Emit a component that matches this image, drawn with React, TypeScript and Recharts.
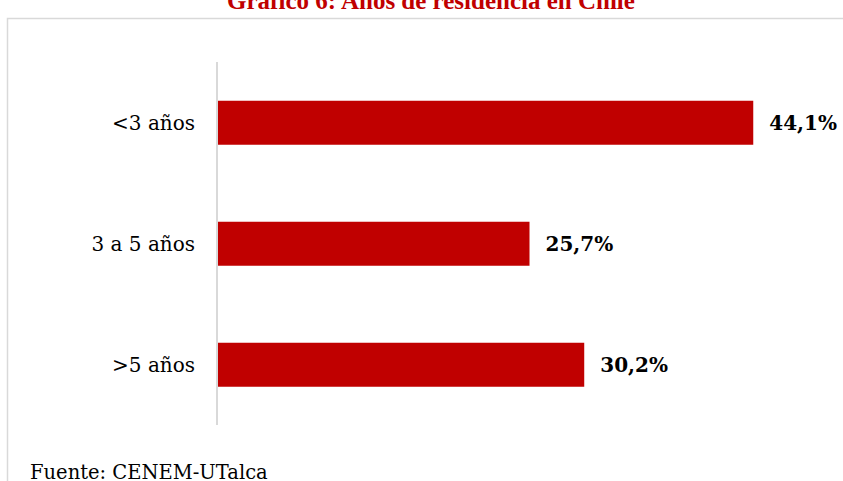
import React from "react";
import { BarChart, Bar, XAxis, YAxis, LabelList } from "recharts";

const categories = ["<3 años", "3 a 5 años", ">5 años"];
const values = [44.1, 25.7, 30.2];
const title = "Gráfico 6: Años de residencia en Chile";
const source = "Fuente: CENEM-UTalca";

const data = categories.map((c, i) => ({ name: c, value: values[i] }));

const FONT = "'DejaVu Serif', serif";
const RED = "#c00000";

export default function App() {
  return (
    <div style={{ position: "absolute", left: 0, top: 0, width: 843, height: 481, overflow: "hidden", background: "#fff" }}>
      <svg width={843} height={481} style={{ position: "absolute", left: 0, top: 0 }}>
        <rect x={7.5} y={18.5} width={900} height={600} fill="#fff" stroke="#d9d9d9" strokeWidth={1.5} />
      </svg>
      <div style={{ position: "absolute", left: 0, top: 0 }}>
        <BarChart
          width={843}
          height={481}
          data={data}
          layout="vertical"
          margin={{ top: 62, right: 18, bottom: 56, left: 0 }}
          barCategoryGap="32%"
        >
          <XAxis type="number" domain={[0, 50]} hide />
          <YAxis
            type="category"
            dataKey="name"
            width={217}
            axisLine={{ stroke: "#d9d9d9", strokeWidth: 2 }}
            tickLine={false}
            tickSize={0}
            tickMargin={22}
            tick={{ fill: "#000", fontSize: 20, fontFamily: FONT }}
          />
          <Bar dataKey="value" fill={RED} isAnimationActive={false}>
            <LabelList
              dataKey="value"
              position="right"
              offset={16}
              formatter={(v: any) => `${String(v).replace(".", ",")}%`}
              style={{ fill: "#000", fontSize: 20, fontWeight: "bold", fontFamily: FONT }}
            />
          </Bar>
        </BarChart>
      </div>
      <svg width={843} height={481} style={{ position: "absolute", left: 0, top: 0, pointerEvents: "none" }}>
        <text x={431} y={9} textAnchor="middle" fill={RED} fontSize={25} fontWeight="bold" fontFamily="'Liberation Serif', serif">
          {title}
        </text>
        <text x={30} y={479} fill="#000" fontSize={19.5} fontFamily={FONT}>
          {source}
        </text>
      </svg>
    </div>
  );
}
